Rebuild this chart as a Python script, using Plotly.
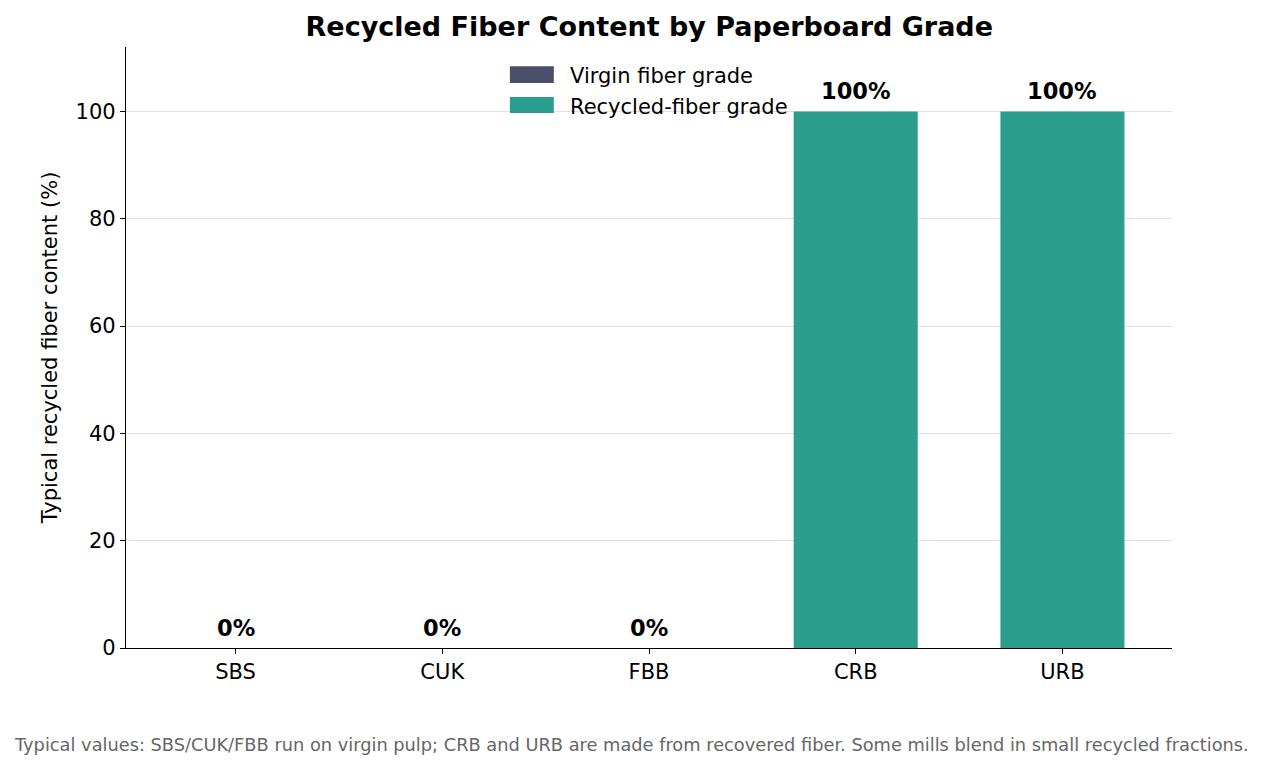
import plotly.graph_objects as go

GRADES = ['SBS', 'CUK', 'FBB', 'CRB', 'URB']
RECYCLED_PCT = [0, 0, 0, 100, 100]
IS_RECYCLED_GRADE = [False, False, False, True, True]

VIRGIN_COLOR = '#4a4e69'
RECYCLED_COLOR = '#2a9d8f'
FONT = 'DejaVu Sans, sans-serif'

virgin_x = [g for g, r in zip(GRADES, IS_RECYCLED_GRADE) if not r]
virgin_y = [v for v, r in zip(RECYCLED_PCT, IS_RECYCLED_GRADE) if not r]
rec_x = [g for g, r in zip(GRADES, IS_RECYCLED_GRADE) if r]
rec_y = [v for v, r in zip(RECYCLED_PCT, IS_RECYCLED_GRADE) if r]

fig = go.Figure()
fig.add_trace(go.Bar(
    x=virgin_x, y=virgin_y, name='Virgin fiber grade',
    marker=dict(color=VIRGIN_COLOR, line=dict(width=0)), width=0.6,
))
fig.add_trace(go.Bar(
    x=rec_x, y=rec_y, name='Recycled-fiber grade',
    marker=dict(color=RECYCLED_COLOR, line=dict(width=0)), width=0.6,
))

# value labels above each bar
for grade, val in zip(GRADES, RECYCLED_PCT):
    fig.add_annotation(
        x=grade, y=val, text=f'<b>{val}%</b>', showarrow=False,
        yanchor='bottom', yshift=5,
        font=dict(family=FONT, size=22.5, color='black'),
    )

# matplotlib-like legend with wide swatches
legend_rows = [('Virgin fiber grade', VIRGIN_COLOR, 0.968, 0.940, 0.951),
               ('Recycled-fiber grade', RECYCLED_COLOR, 0.917, 0.890, 0.900)]
for name, color, y0, y1, ytxt in legend_rows:
    fig.add_shape(type='rect', xref='paper', yref='paper',
                  x0=0.367, x1=0.409, y0=y1, y1=y0,
                  fillcolor=color, line=dict(width=0))
    fig.add_annotation(x=0.4225, y=ytxt, xref='paper', yref='paper',
                       text=name, showarrow=False, xanchor='left', yanchor='middle',
                       font=dict(family=FONT, size=21, color='black'))

fig.add_annotation(
    x=0.483, y=0, xref='paper', yref='paper', yshift=-96,
    text='Typical values: SBS/CUK/FBB run on virgin pulp; CRB and URB are made '
         'from recovered fiber. Some mills blend in small recycled fractions.',
    showarrow=False, xanchor='center', yanchor='middle',
    font=dict(family=FONT, size=17.8, color='#666666'),
)

fig.update_layout(
    width=1255, height=760,
    barmode='overlay', showlegend=False,
    plot_bgcolor='white', paper_bgcolor='white',
    margin=dict(l=118, r=91, t=39, b=120),
    font=dict(family=FONT, size=21, color='black'),
    title=dict(
        text='<b>Recycled Fiber Content by Paperboard Grade</b>',
        x=0.511, xanchor='center', y=0.975, yanchor='middle',
        font=dict(family=FONT, size=27, color='black'),
    ),
    xaxis=dict(
        categoryorder='array', categoryarray=GRADES,
        range=[-0.53, 4.53],
        showline=True, linecolor='black', linewidth=1.3,
        ticks='outside', ticklen=5, tickcolor='black',
        showgrid=False, tickfont=dict(size=21),
    ),
    yaxis=dict(
        range=[0, 112], tickvals=[0, 20, 40, 60, 80, 100],
        showline=True, linecolor='black', linewidth=1.3,
        ticks='outside', ticklen=5, tickcolor='black',
        showgrid=True, gridcolor='#e2e2e2', gridwidth=1,
        zeroline=False, tickfont=dict(size=21),
        title=dict(text='Typical recycled fiber content (%)', font=dict(size=21), standoff=12),
    ),
)

fig.write_html('out.html')
